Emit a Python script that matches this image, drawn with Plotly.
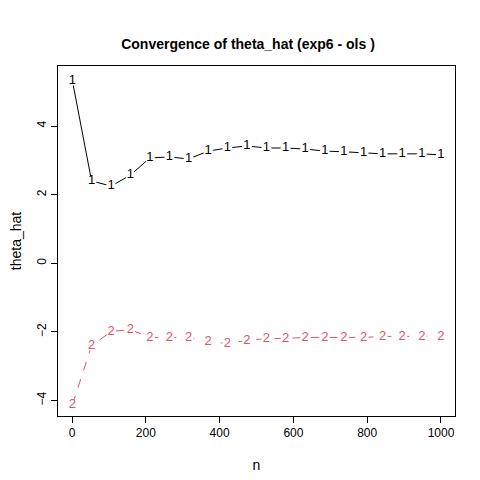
import numpy as np
import plotly.graph_objects as go

n = [1, 53, 106, 158, 211, 264, 316, 369, 421, 474, 527, 579, 632, 685, 737, 790, 842, 895, 948, 1000]
theta1 = [5.32, 2.40, 2.25, 2.57, 3.07, 3.10, 3.04, 3.27, 3.36, 3.42, 3.36, 3.36, 3.33, 3.27, 3.25, 3.22, 3.19, 3.19, 3.19, 3.16]
theta2 = [-4.12, -2.40, -1.99, -1.93, -2.16, -2.16, -2.16, -2.30, -2.33, -2.25, -2.19, -2.19, -2.16, -2.16, -2.16, -2.16, -2.13, -2.13, -2.13, -2.13]

fig = go.Figure()
for y, col, dash, lab in [(theta1, "black", "solid", "1"), (theta2, "#DF536B", "dash", "2")]:
    fig.add_trace(go.Scatter(x=n, y=y, mode="lines+markers",
                             line=dict(color=col, width=1, dash=dash),
                             marker=dict(color="white", size=10, line=dict(width=0))))
    fig.add_trace(go.Scatter(x=n, y=y, mode="text", text=[lab] * len(n),
                             textfont=dict(color=col, size=13, family="Liberation Sans")))

ax = dict(showgrid=False, zeroline=False, showline=True, mirror=True, linecolor="black",
          ticks="outside", ticklen=6, tickcolor="black", automargin=False)
fig.update_layout(
    width=480, height=480, plot_bgcolor="white", paper_bgcolor="white", showlegend=False,
    margin=dict(l=50, r=33, t=58, b=72),
    font=dict(family="Liberation Sans", size=12, color="black"),
    title=dict(text="<b>Convergence of theta_hat (exp6 - ols )</b>", x=0.5, y=0.935,
               xanchor="center", font=dict(size=14)),
    xaxis=dict(ax, range=[-38, 1038], tickvals=[0, 200, 400, 600, 800, 1000],
               title=dict(text="n", standoff=20)),
    yaxis=dict(ax, range=[-4.45, 5.75], tickvals=[-4, -2, 0, 2, 4], tickangle=-90,
               title=dict(text="theta_hat", standoff=12)),
)
fig.write_html("out.html")
